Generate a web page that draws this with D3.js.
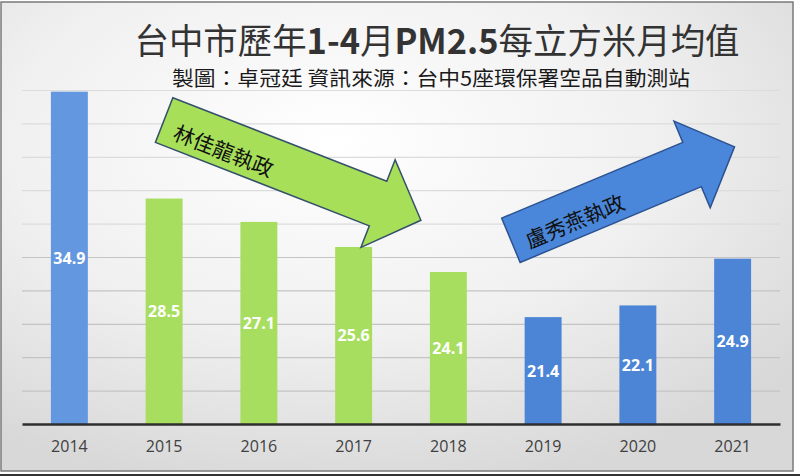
<!DOCTYPE html>
<html>
<head>
<meta charset="utf-8">
<script src="https://cdn.jsdelivr.net/npm/d3@7"></script>
<style>
  html, body { margin: 0; padding: 0; background: #fff; }
  svg { display: block; }
</style>
</head>
<body>
<div id="viz"></div>
<script>
// data
const years = ['2014', '2015', '2016', '2017', '2018', '2019', '2020', '2021'];
const pm25 = [34.9, 28.5, 27.1, 25.6, 24.1, 21.4, 22.1, 24.9];
const mayor = ['other', 'lin', 'lin', 'lin', 'lin', 'lu', 'lu', 'lu'];
const yTicks = [15, 17, 19, 21, 23, 25, 27, 29, 31, 33, 35];

// arrows: position in (year index, value) space
const arrows = [
  { label: '林佳龍執政', from: [1.0, 33.2], to: [3.71, 27.2], fill: '#a7df59', stroke: '#34506b' },
  { label: '盧秀燕執政', from: [4.66, 26.0], to: [7.02, 31.6], fill: '#4a86d9', stroke: '#2c5291' }
];

const width = 800, height = 476;
const margin = { top: 90, right: 20, bottom: 52, left: 22 };

const svg = d3.select('#viz')
  .append('svg')
  .attr('width', width)
  .attr('height', height);

const defs = svg.append('defs');
const grad = defs.append('radialGradient')
  .attr('id', 'bg')
  .attr('cx', '42%').attr('cy', '30%').attr('r', '75%');
grad.append('stop').attr('offset', '0%').attr('stop-color', '#ffffff');
grad.append('stop').attr('offset', '55%').attr('stop-color', '#f0f0f0');
grad.append('stop').attr('offset', '100%').attr('stop-color', '#d8d8d8');

// panel
svg.append('rect')
  .attr('x', 1).attr('y', 2)
  .attr('width', 792).attr('height', 469)
  .attr('fill', 'url(#bg)')
  .attr('stroke', '#7a7a7a')
  .attr('stroke-width', 1.5);
svg.append('line')
  .attr('x1', 0).attr('x2', 800).attr('y1', 475).attr('y2', 475)
  .attr('stroke', '#333').attr('stroke-width', 2);

const xScale = d3.scaleBand()
  .domain(years)
  .range([margin.left, width - margin.right])
  .paddingInner(0.61)
  .paddingOuter(0.305);

const yScale = d3.scaleLinear()
  .domain([15, 35])
  .range([height - margin.bottom, margin.top]);

const xi = d3.scaleLinear()
  .domain([0, years.length - 1])
  .range([xScale(years[0]) + xScale.bandwidth() / 2,
          xScale(years[years.length - 1]) + xScale.bandwidth() / 2]);

const colors = d3.scaleOrdinal()
  .domain(['other', 'lin', 'lu'])
  .range(['#6397e0', '#a7de60', '#4d85d6']);

// grid
const yGuide = svg.append('g')
  .attr('transform', 'translate(' + margin.left + ',0)')
  .call(d3.axisLeft(yScale)
    .tickValues(yTicks.slice(1))
    .tickSize(-(width - margin.left - margin.right))
    .tickFormat(''));
yGuide.select('.domain').remove();
yGuide.selectAll('line')
  .attr('stroke', d => d > 26 ? '#dcdcdc' : '#c4c4c4')
  .attr('stroke-width', 1.2);

// bars
svg.append('g')
  .selectAll('rect')
  .data(pm25)
  .enter().append('rect')
  .attr('x', (d, i) => xScale(years[i]))
  .attr('width', xScale.bandwidth())
  .attr('y', d => yScale(d))
  .attr('height', d => yScale(15) - yScale(d))
  .attr('fill', (d, i) => colors(mayor[i]));

// value labels
svg.append('g')
  .selectAll('text')
  .data(pm25)
  .enter().append('text')
  .attr('x', (d, i) => xScale(years[i]) + xScale.bandwidth() / 2)
  .attr('y', d => (yScale(d) + yScale(15)) / 2)
  .attr('text-anchor', 'middle')
  .attr('dominant-baseline', 'central')
  .attr('fill', '#fff')
  .attr('font-family', '"Open Sans", sans-serif')
  .attr('font-weight', 'bold')
  .attr('font-size', 16)
  .text(d => d.toFixed(1));

// x axis
const xGuide = svg.append('g')
  .attr('transform', 'translate(0,' + yScale(15) + ')')
  .call(d3.axisBottom(xScale).tickSize(0).tickPadding(17));
xGuide.select('.domain')
  .attr('stroke', '#2e2e2e')
  .attr('stroke-width', 2.5);
xGuide.selectAll('text')
  .attr('fill', '#404040')
  .attr('font-family', '"Open Sans", sans-serif')
  .attr('font-size', 16);

// arrows
arrows.forEach(a => {
  const x0 = xi(a.from[0]), y0 = yScale(a.from[1]);
  const x1 = xi(a.to[0]), y1 = yScale(a.to[1]);
  const len = Math.hypot(x1 - x0, y1 - y0);
  const ang = Math.atan2(y1 - y0, x1 - x0) * 180 / Math.PI;
  const sw = 24, hw = 47, hl = 46;
  const pts = [[0, -sw], [len - hl, -sw], [len - hl, -hw], [len, 0],
               [len - hl, hw], [len - hl, sw], [0, sw]];
  const g = svg.append('g')
    .attr('transform', 'translate(' + x0 + ',' + y0 + ') rotate(' + ang + ')');
  g.append('polygon')
    .attr('points', pts.map(p => p.join(',')).join(' '))
    .attr('fill', a.fill)
    .attr('stroke', a.stroke)
    .attr('stroke-width', 1.5)
    .attr('stroke-linejoin', 'miter');
  g.append('text')
    .attr('x', 14)
    .attr('y', 6)
    .attr('dominant-baseline', 'central')
    .attr('font-family', '"Noto Sans CJK TC", sans-serif')
    .attr('font-size', 21)
    .attr('fill', '#111')
    .text(a.label);
});

// titles
const title = svg.append('text')
  .attr('x', 437)
  .attr('y', 54)
  .attr('text-anchor', 'middle')
  .attr('font-family', '"Noto Sans CJK TC", sans-serif')
  .attr('font-size', 35)
  .attr('fill', '#333')
  .attr('textLength', 605)
  .attr('lengthAdjust', 'spacingAndGlyphs');
[['台中市歷年', 'normal'], ['1-4', 'bold'], ['月', 'normal'], ['PM2.5', 'bold'], ['每立方米月均值', 'normal']]
  .forEach(t => title.append('tspan').attr('font-weight', t[1]).text(t[0]));

svg.append('text')
  .attr('x', 431)
  .attr('y', 86)
  .attr('text-anchor', 'middle')
  .attr('font-family', '"Noto Sans CJK TC", sans-serif')
  .attr('font-size', 20)
  .attr('fill', '#1a1a1a')
  .attr('textLength', 518)
  .attr('lengthAdjust', 'spacingAndGlyphs')
  .text('製圖：卓冠廷 資訊來源：台中5座環保署空品自動測站');
</script>
</body>
</html>
